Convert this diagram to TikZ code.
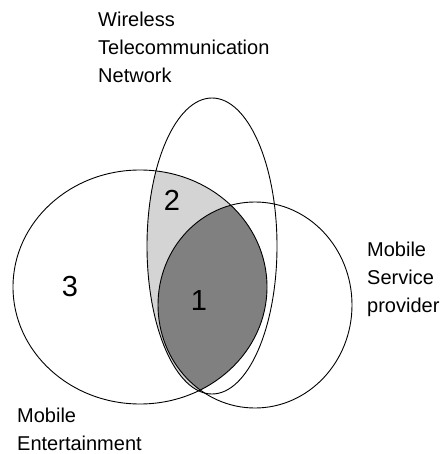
\documentclass[tikz,border=0pt]{standalone}
\usepackage{fontspec}
\setmainfont{Liberation Sans}
\usetikzlibrary{positioning}

\begin{document}
\begin{tikzpicture}[
  x=1pt,y=-1pt,
  setline/.style={draw=black,line width=0.9pt},
  setlabel/.style={align=left,anchor=north west,inner sep=0pt,
                   font=\fontsize{20}{28}\selectfont},
  regionnum/.style={inner sep=0pt,font=\fontsize{29}{30}\selectfont},
]
  \useasboundingbox (0,0) rectangle (442,454);

  % Shaded overlaps
  \begin{scope}
    \clip (140,287) ellipse [x radius=127, y radius=117];
    \fill[black!17] (212,246) ellipse [x radius=65, y radius=148];
    \fill[black!50] (255,305) ellipse [x radius=97, y radius=103];
  \end{scope}

  % Set outlines
  \draw[setline] (140,287) ellipse [x radius=127, y radius=117];
  \draw[setline] (212,246) ellipse [x radius=65, y radius=148];
  \draw[setline] (255,305) ellipse [x radius=97, y radius=103];

  % Region numbers
  \node[regionnum] (one) at (199,301) {1};
  \node[regionnum] (two) at (172,200) {2};
  \node[regionnum] (three) at (70,287) {3};

  % Set names
  \node[setlabel] (wtn) at (98,12) {Wireless\\Telecommunication\\Network};
  \node[setlabel] (msp) at (367,242) {Mobile\\Service\\provider};
  \node[setlabel] (me) at (17,408) {Mobile\\Entertainment};
\end{tikzpicture}
\end{document}
